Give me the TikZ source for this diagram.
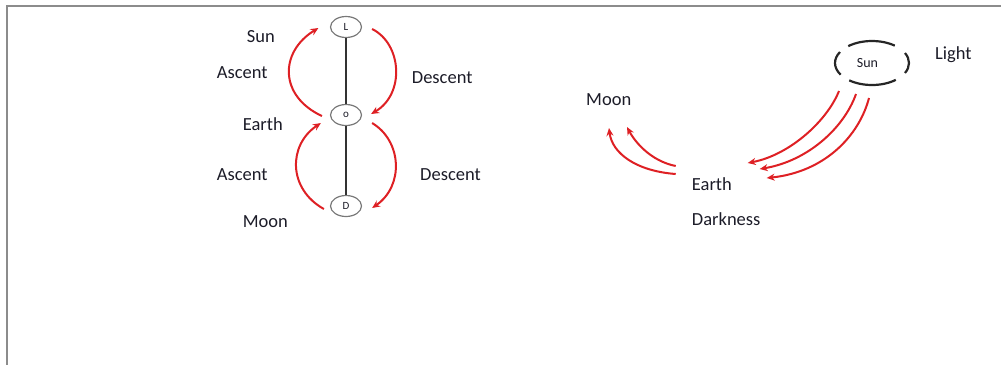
\documentclass[tikz,border=0pt]{standalone}
\usepackage{fontspec}
\setmainfont{Carlito}
\usetikzlibrary{arrows.meta,calc,shapes.geometric}
\definecolor{arrowred}{RGB}{222,32,36}
\definecolor{ink}{RGB}{28,28,40}
\definecolor{framegray}{RGB}{140,140,140}
\definecolor{ringgray}{RGB}{120,120,120}
\tikzset{
  lbl/.style={anchor=base west, inner sep=0pt, text=ink, font=\fontsize{18.5}{22}\selectfont},
  ring/.style={ellipse, draw=ringgray, line width=1.2pt, fill=white, minimum width=31pt, minimum height=21pt, inner sep=0pt, text=ink, font=\fontsize{11}{12}\selectfont},
  stem/.style={draw=black!80, line width=2pt},
  flow/.style={draw=arrowred, line width=2pt, -{Stealth[length=8pt,width=7pt]}},
  rim/.style={draw=black!85, line width=2.2pt},
}
\begin{document}
\begin{tikzpicture}[x=1pt,y=-1pt]
\useasboundingbox (0,0) rectangle (1001,365);
% frame (top and left edges)
\draw[framegray, line width=2pt] (1001,6) -- (7,6) -- (7,365);

% ---------- left: ladder L - o - D ----------
\node[ring] (L) at (346,27) {L};
\node[ring] (o) at (346,115) {o};
\node[ring] (D) at (346,206) {D};
\draw[stem] (L) -- (o);
\draw[stem] (o) -- (D);

% descent arcs (right side)
\draw[flow] ($(L.east)+(10,2)$) .. controls +(30,15) and +(34,-20) .. ($(o.east)+(9,-1)$);
\draw[flow] ($(o.east)+(10,8)$) .. controls +(30,18) and +(32,-22) .. ($(D.east)+(10,2)$);
% ascent arcs (left side)
\draw[flow] ($(o.west)+(-8,1)$) .. controls +(-43,-20) and +(-39,24) .. ($(L.west)+(-11.5,1)$);
\draw[flow] ($(D.west)+(-6,3)$) .. controls +(-36,-20) and +(-33,22) .. ($(o.west)+(-9,8)$);

\node[lbl] (sunL) at (246.7,42.7) {Sun};
\node[lbl] (ascU) at (216.7,78.3) {Ascent};
\node[lbl] (earthL) at (242.7,130) {Earth};
\node[lbl] (ascD) at (216.7,180) {Ascent};
\node[lbl] (moonL) at (242.7,227.7) {Moon};
\node[lbl] (descU) at (411.7,83.3) {Descent};
\node[lbl] (descD) at (420,180) {Descent};

% ---------- right: Sun, Earth, Moon ----------
\node[minimum width=74pt, minimum height=44pt, inner sep=0pt] (sun) at (872,63) {};
\node[anchor=base, inner sep=0pt, text=ink, font=\fontsize{14}{16}\selectfont] (sunT) at (867.5,67.3) {Sun};
\draw[rim] (sun.center) ++(52:37pt and 22pt) arc[start angle=52, end angle=130, x radius=37pt, y radius=22pt];
\draw[rim] (sun.center) ++(150:37pt and 22pt) arc[start angle=150, end angle=212, x radius=37pt, y radius=22pt];
\draw[rim] (sun.center) ++(232:37pt and 22pt) arc[start angle=232, end angle=310, x radius=37pt, y radius=22pt];
\draw[rim] (sun.center) ++(333:37pt and 22pt) arc[start angle=333, end angle=387, x radius=37pt, y radius=22pt];

\node[lbl] (light) at (935,59.3) {Light};
\node[lbl] (moonR) at (586,105) {Moon};
\node[lbl] (earthR) at (691.7,190) {Earth};
\node[lbl] (dark) at (691.7,225) {Darkness};

% light rays from the Sun down to the Earth
\draw[flow] ($(sun.center)+(-33,28)$) .. controls +(-12,30) and +(42,-8) .. ($(earthR.base west)+(56,-27)$);
\draw[flow] ($(sun.center)+(-16,31)$) .. controls +(-12,34) and +(48,-8) .. ($(earthR.base west)+(68,-21)$);
\draw[flow] ($(sun.center)+(-3,35)$) .. controls +(-10,38) and +(58,-6) .. ($(earthR.base west)+(75,-12)$);

% reflected light from the Earth to the Moon
\draw[flow] ($(earthR.base west)+(-16,-24)$) .. controls +(-25,-5) and +(8,15) .. ($(moonR.base west)+(41,22)$);
\draw[flow] ($(earthR.base west)+(-16,-16)$) .. controls +(-40,-3) and +(3,25) .. ($(moonR.base west)+(23,23)$);
\end{tikzpicture}
\end{document}
